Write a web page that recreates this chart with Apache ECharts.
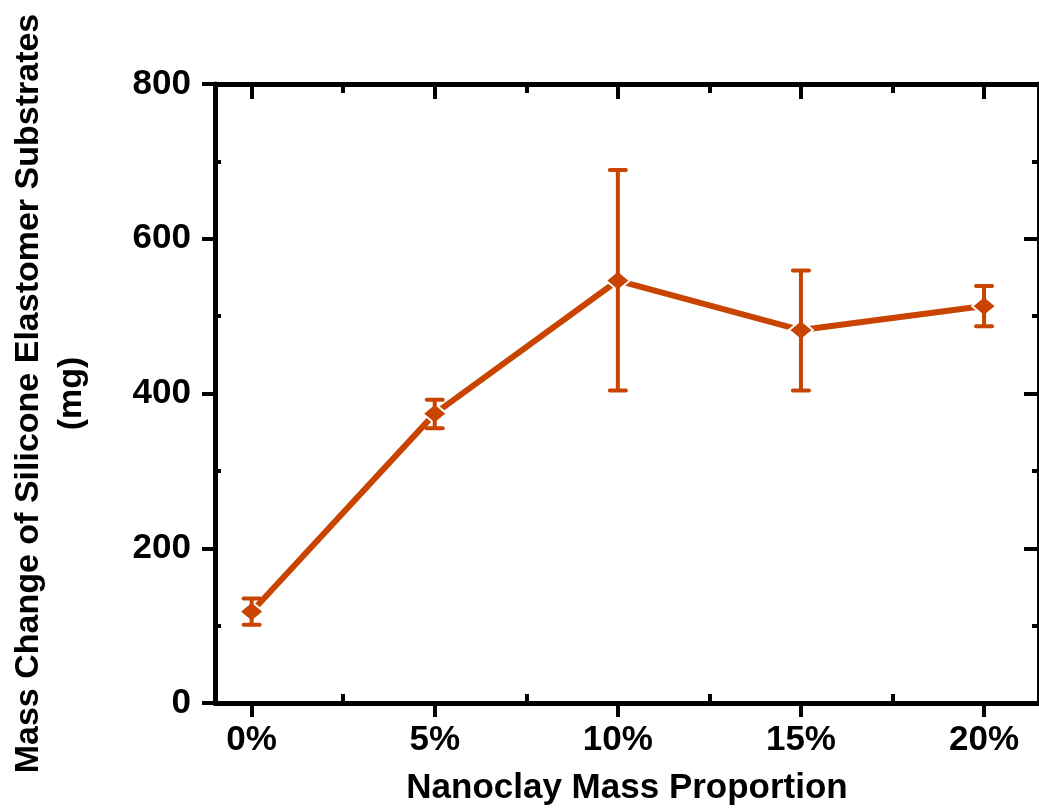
<!DOCTYPE html>
<html>
<head>
<meta charset="utf-8">
<script src="https://cdn.jsdelivr.net/npm/echarts@6/dist/echarts.min.js"></script>
<style>
html,body{margin:0;padding:0;background:#fff;}
#chart{width:1039px;height:812px;}
</style>
</head>
<body>
<div id="chart"></div>
<script>
// ---- data ----
const xValues = [0, 5, 10, 15, 20];           // nanoclay mass proportion (%)
const massChange = [118, 374, 546, 482, 513]; // mg
const errLow = [101, 355, 404, 404, 487];
const errHigh = [135, 392, 689, 559, 539];
const xMinorTicks = [2.5, 7.5, 12.5, 17.5];
const yMinorTicks = [100, 300, 500, 700];

const COLOR = '#C84400';
const FONT = 'Liberation Sans, Arial, sans-serif';

const chart = echarts.init(document.getElementById('chart'), null, {renderer: 'canvas'});

const baseX = {type: 'value', min: -1, max: 21.5, gridIndex: 0, splitLine: {show: false}};
const baseY = {type: 'value', min: 0, max: 800, gridIndex: 0, splitLine: {show: false}};
const axLine = {show: true, onZero: false, lineStyle: {color: '#000', width: 5}};
const noLine = {show: false, onZero: false};

const option = {
  animation: false,
  backgroundColor: '#ffffff',
  grid: {left: 215, right: 0, top: 84, bottom: 109, containLabel: false, outerBoundsMode: 'none'},
  xAxis: [
    Object.assign({}, baseX, {
      position: 'bottom',
      axisLine: axLine,
      axisTick: {show: true, customValues: xValues, inside: false, length: 14, lineStyle: {color: '#000', width: 4}},
      axisLabel: {customValues: xValues, formatter: '{value}%', fontSize: 35, fontWeight: 'bold', color: '#000', fontFamily: FONT, margin: 20},
      name: 'Nanoclay Mass Proportion',
      nameLocation: 'middle',
      nameGap: 68,
      nameTextStyle: {fontSize: 35, fontWeight: 'bold', color: '#000', fontFamily: FONT}
    }),
    Object.assign({}, baseX, {
      position: 'bottom',
      axisLine: noLine,
      axisTick: {show: true, customValues: xMinorTicks, inside: true, length: 9, lineStyle: {color: '#000', width: 4}},
      axisLabel: {show: false}
    }),
    Object.assign({}, baseX, {
      position: 'top',
      axisLine: axLine,
      axisTick: {show: true, customValues: xValues, inside: true, length: 15, lineStyle: {color: '#000', width: 4}},
      axisLabel: {show: false}
    }),
    Object.assign({}, baseX, {
      position: 'top',
      axisLine: noLine,
      axisTick: {show: true, customValues: xMinorTicks, inside: true, length: 9, lineStyle: {color: '#000', width: 4}},
      axisLabel: {show: false}
    })
  ],
  yAxis: [
    Object.assign({}, baseY, {
      position: 'left',
      interval: 200,
      axisLine: axLine,
      axisTick: {show: true, inside: false, length: 13, lineStyle: {color: '#000', width: 4}},
      axisLabel: {fontSize: 35, fontWeight: 'bold', color: '#000', fontFamily: FONT, margin: 24},
      name: 'Mass Change of Silicone Elastomer Substrates\n(mg)',
      nameLocation: 'middle',
      nameRotate: 90,
      nameGap: 122,
      nameTextStyle: {fontSize: 34, fontWeight: 'bold', color: '#000', fontFamily: FONT, lineHeight: 43, align: 'center'}
    }),
    Object.assign({}, baseY, {
      position: 'left',
      axisLine: noLine,
      axisTick: {show: true, customValues: yMinorTicks, inside: true, length: 6, lineStyle: {color: '#000', width: 4}},
      axisLabel: {show: false}
    }),
    Object.assign({}, baseY, {
      position: 'right',
      axisLine: axLine,
      interval: 200,
      axisTick: {show: true, inside: true, length: 15, lineStyle: {color: '#000', width: 4}},
      axisLabel: {show: false}
    }),
    Object.assign({}, baseY, {
      position: 'right',
      axisLine: noLine,
      axisTick: {show: true, customValues: yMinorTicks, inside: true, length: 7, lineStyle: {color: '#000', width: 4}},
      axisLabel: {show: false}
    })
  ],
  series: [
    {
      type: 'line',
      xAxisIndex: 0,
      yAxisIndex: 0,
      z: 2,
      data: xValues.map((x, i) => [x, massChange[i]]),
      symbol: 'diamond',
      symbolSize: [24, 20],
      lineStyle: {color: COLOR, width: 6},
      itemStyle: {color: COLOR, borderColor: '#ffffff', borderWidth: 2}
    },
    {
      type: 'custom',
      xAxisIndex: 0,
      yAxisIndex: 0,
      z: 3,
      data: xValues.map((x, i) => [x, errLow[i], errHigh[i]]),
      encode: {x: 0, y: [1, 2]},
      renderItem: function (params, api) {
        const x = api.value(0);
        const lo = api.coord([x, api.value(1)]);
        const hi = api.coord([x, api.value(2)]);
        const hw = 8;
        const st = {stroke: COLOR, lineWidth: 4, lineCap: 'round'};
        return {
          type: 'group',
          children: [
            {type: 'line', shape: {x1: lo[0], y1: lo[1], x2: hi[0], y2: hi[1]}, style: {stroke: COLOR, lineWidth: 4}},
            {type: 'line', shape: {x1: lo[0] - hw, y1: lo[1], x2: lo[0] + hw, y2: lo[1]}, style: st},
            {type: 'line', shape: {x1: hi[0] - hw, y1: hi[1], x2: hi[0] + hw, y2: hi[1]}, style: st}
          ]
        };
      }
    }
  ]
};
chart.setOption(option);
</script>
</body>
</html>
